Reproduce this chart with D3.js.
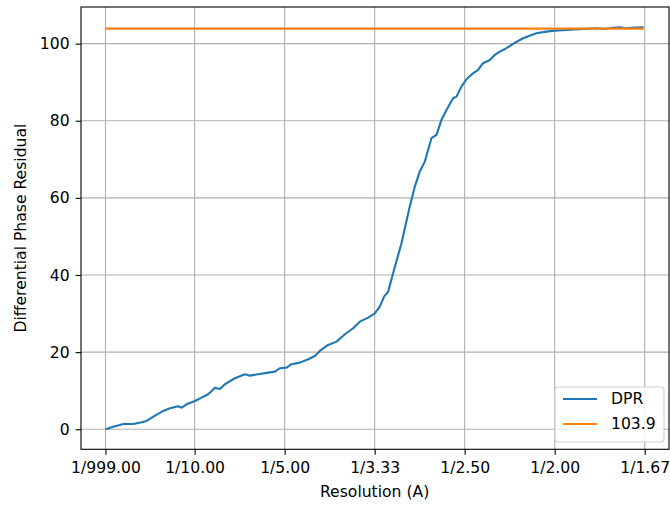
<!DOCTYPE html>
<html>
<head>
<meta charset="utf-8">
<script src="https://cdn.jsdelivr.net/npm/d3@7"></script>
<style>
  body { margin: 0; background: #fff; }
  svg text { font-family: "DejaVu Sans", sans-serif; fill: #000; }
</style>
</head>
<body>
<svg id="chart" width="670" height="506"></svg>
<script>
// spatial frequency (1/A) and differential phase residual
const freq = [0.001, 0.0097, 0.0208, 0.0319, 0.0412, 0.0467, 0.056, 0.0652, 0.0726, 0.0818,
  0.0856, 0.0911, 0.1004, 0.1078, 0.1151, 0.1226, 0.1281, 0.1337, 0.1384, 0.1448,
  0.1559, 0.1614, 0.1706, 0.1817, 0.1892, 0.1947, 0.2022, 0.2077, 0.2169, 0.2261,
  0.2336, 0.2391, 0.2483, 0.2577, 0.2669, 0.2761, 0.2835, 0.2928, 0.3002, 0.3057,
  0.3105, 0.315, 0.3205, 0.3298, 0.339, 0.3446, 0.3501, 0.3557, 0.3594, 0.3631,
  0.3687, 0.3742, 0.3798, 0.3871, 0.3909, 0.3964, 0.402, 0.4093, 0.4149, 0.4204,
  0.4279, 0.4334, 0.439, 0.4464, 0.4537, 0.4648, 0.4797, 0.4908, 0.5, 0.513,
  0.5278, 0.537, 0.5463, 0.555, 0.5648, 0.572, 0.5796, 0.589, 0.5988];
const dpr = [0, 0.67, 1.37, 1.37, 1.82, 2.15, 3.53, 4.75, 5.45, 5.96,
  5.6, 6.48, 7.34, 8.2, 9.08, 10.79, 10.45, 11.67, 12.34, 13.23,
  14.26, 13.9, 14.26, 14.68, 14.94, 15.82, 15.98, 16.86, 17.27, 18.15,
  19.01, 20.31, 21.86, 22.72, 24.64, 26.19, 27.9, 28.94, 30.08, 31.8,
  34.39, 35.68, 40.46, 48.24, 57.73, 62.92, 66.8, 69.4, 72.43, 75.47,
  76.32, 80.21, 82.81, 85.84, 86.26, 88.85, 90.77, 92.3, 93.18, 94.92,
  95.77, 97.07, 97.93, 98.81, 99.92, 101.4, 102.7, 103.11, 103.37, 103.55,
  103.73, 103.85, 104.0, 103.8, 104.1, 104.25, 104.0, 104.2, 104.25];
const threshold = 103.9;
const seriesNames = ["DPR", "103.9"];
const xTicks = [1 / 999, 0.1, 0.2, 0.3, 0.4, 0.5, 0.6];
const xTickLabels = ["1/999.00", "1/10.00", "1/5.00", "1/3.33", "1/2.50", "1/2.00", "1/1.67"];
const yTicks = [0, 20, 40, 60, 80, 100];

const colors = ["#1f77b4", "#ff7f0e"];
const fontSize = 15.6;

const svg = d3.select("#chart");
const margin = { top: 7, right: 1, bottom: 56.7, left: 81 };
const width = 670 - margin.left - margin.right;
const height = 506 - margin.top - margin.bottom;

const x = d3.scaleLinear().domain([-0.0262, 0.627]).range([0, width]);
const y = d3.scaleLinear().domain([-5.2, 109.5]).range([height, 0]);

const g = svg.append("g").attr("transform", `translate(${margin.left},${margin.top})`);

// grid
g.append("g").selectAll("line").data(xTicks).enter().append("line")
  .attr("x1", d => x(d)).attr("x2", d => x(d)).attr("y1", 0).attr("y2", height)
  .attr("stroke", "#b0b0b0").attr("stroke-width", 1.1);
g.append("g").selectAll("line").data(yTicks).enter().append("line")
  .attr("y1", d => y(d)).attr("y2", d => y(d)).attr("x1", 0).attr("x2", width)
  .attr("stroke", "#b0b0b0").attr("stroke-width", 1.1);

// lines
const line = d3.line().x((d, i) => x(freq[i])).y(d => y(d));
g.append("path").datum(dpr).attr("d", line)
  .attr("fill", "none").attr("stroke", colors[0]).attr("stroke-width", 2.1)
  .attr("stroke-linejoin", "round");
g.append("path").datum(freq.map(() => threshold)).attr("d", line)
  .attr("fill", "none").attr("stroke", colors[1]).attr("stroke-width", 2.1);

// axes
const xAxis = g.append("g").attr("transform", `translate(0,${height})`)
  .call(d3.axisBottom(x).tickValues(xTicks).tickFormat((d, i) => xTickLabels[i])
    .tickSize(5.4).tickPadding(7.5));
const yAxis = g.append("g")
  .call(d3.axisLeft(y).tickValues(yTicks).tickSize(5.4).tickPadding(6));
[xAxis, yAxis].forEach(a => {
  a.select(".domain").remove();
  a.selectAll("line").attr("stroke", "#000").attr("stroke-width", 1.1);
  a.selectAll("text").attr("font-family", "DejaVu Sans").attr("font-size", fontSize).attr("fill", "#000");
});

// frame
g.append("rect").attr("width", width).attr("height", height)
  .attr("fill", "none").attr("stroke", "#000").attr("stroke-width", 1.1);

// axis labels
svg.append("text").attr("x", margin.left + x(0.3)).attr("y", 497)
  .attr("text-anchor", "middle").attr("font-size", fontSize).text("Resolution (A)");
svg.append("text").attr("transform", `translate(26,${margin.top + height / 2}) rotate(-90)`)
  .attr("text-anchor", "middle").attr("font-size", fontSize).text("Differential Phase Residual");

// legend
const lg = svg.append("g").attr("transform", "translate(555,387)");
lg.append("rect").attr("width", 109).attr("height", 55).attr("rx", 3)
  .attr("fill", "#fff").attr("fill-opacity", 0.8).attr("stroke", "#d0d0d0").attr("stroke-width", 1.1);
seriesNames.forEach((name, i) => {
  const yy = 12 + i * 25;
  lg.append("line").attr("x1", 8).attr("x2", 42).attr("y1", yy).attr("y2", yy)
    .attr("stroke", colors[i]).attr("stroke-width", 2.1);
  lg.append("text").attr("x", 56).attr("y", yy).attr("dy", "0.35em")
    .attr("font-size", fontSize).text(name);
});
</script>
</body>
</html>
